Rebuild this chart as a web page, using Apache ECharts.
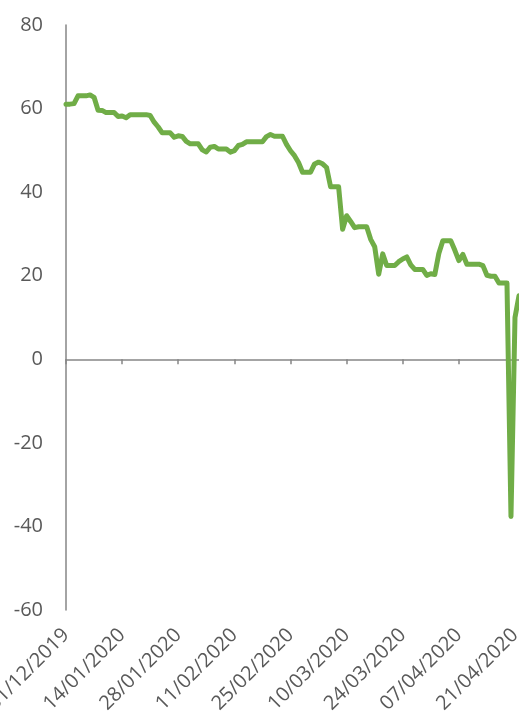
<!DOCTYPE html>
<html>
<head>
<meta charset="utf-8">
<script src="https://cdn.jsdelivr.net/npm/echarts@6/dist/echarts.min.js"></script>
<style>
html,body{margin:0;padding:0;background:#fff;}
#chart{width:519px;height:727px;}
</style>
</head>
<body>
<div id="chart"></div>
<script>
// Calendar days, 31/12/2019 .. 22/04/2020
const dates = [
'31/12/2019',
'01/01/2020','02/01/2020','03/01/2020','04/01/2020','05/01/2020','06/01/2020','07/01/2020','08/01/2020','09/01/2020','10/01/2020',
'11/01/2020','12/01/2020','13/01/2020','14/01/2020','15/01/2020','16/01/2020','17/01/2020','18/01/2020','19/01/2020','20/01/2020',
'21/01/2020','22/01/2020','23/01/2020','24/01/2020','25/01/2020','26/01/2020','27/01/2020','28/01/2020','29/01/2020','30/01/2020','31/01/2020',
'01/02/2020','02/02/2020','03/02/2020','04/02/2020','05/02/2020','06/02/2020','07/02/2020','08/02/2020','09/02/2020','10/02/2020',
'11/02/2020','12/02/2020','13/02/2020','14/02/2020','15/02/2020','16/02/2020','17/02/2020','18/02/2020','19/02/2020','20/02/2020',
'21/02/2020','22/02/2020','23/02/2020','24/02/2020','25/02/2020','26/02/2020','27/02/2020','28/02/2020','29/02/2020',
'01/03/2020','02/03/2020','03/03/2020','04/03/2020','05/03/2020','06/03/2020','07/03/2020','08/03/2020','09/03/2020','10/03/2020',
'11/03/2020','12/03/2020','13/03/2020','14/03/2020','15/03/2020','16/03/2020','17/03/2020','18/03/2020','19/03/2020','20/03/2020',
'21/03/2020','22/03/2020','23/03/2020','24/03/2020','25/03/2020','26/03/2020','27/03/2020','28/03/2020','29/03/2020','30/03/2020','31/03/2020',
'01/04/2020','02/04/2020','03/04/2020','04/04/2020','05/04/2020','06/04/2020','07/04/2020','08/04/2020','09/04/2020','10/04/2020',
'11/04/2020','12/04/2020','13/04/2020','14/04/2020','15/04/2020','16/04/2020','17/04/2020','18/04/2020','19/04/2020','20/04/2020',
'21/04/2020','22/04/2020'
];

const prices = [
61.06,
61.06,61.18,63.05,63.05,63.05,63.27,62.70,59.61,59.56,59.04,
59.04,59.04,58.08,58.23,57.81,58.52,58.54,58.54,58.54,58.54,
58.34,56.74,55.59,54.19,54.19,54.19,53.14,53.48,53.33,52.14,51.56,
51.56,51.56,50.11,49.61,50.75,50.95,50.32,50.32,50.32,49.57,
49.94,51.17,51.42,52.05,52.05,52.05,52.05,52.05,53.29,53.78,
53.38,53.38,53.38,51.43,49.90,48.73,47.09,44.76,44.76,
44.76,46.75,47.18,46.78,45.90,41.28,41.28,41.28,31.13,34.36,
32.98,31.50,31.73,31.73,31.73,28.70,26.95,20.37,25.22,22.43,
22.43,22.43,23.36,24.01,24.49,22.60,21.51,21.51,21.51,20.09,20.48,
20.31,25.32,28.34,28.34,28.34,26.08,23.63,25.09,22.76,22.76,
22.76,22.76,22.41,20.11,19.87,19.87,18.27,18.27,18.27,-37.63,
10.01,15.20
];

const tickLabels = ['31/12/2019','14/01/2020','28/01/2020','11/02/2020','25/02/2020','10/03/2020','24/03/2020','07/04/2020','21/04/2020'];

const yMin = -60, yMax = 80, yStep = 20;

const FONT = '"Open Sans", "Noto Sans", sans-serif';
const axisGray = '#868686';
const textGray = '#595959';

const chart = echarts.init(document.getElementById('chart'));
const showLabel = (idx, val) => tickLabels.indexOf(val) >= 0;

chart.setOption({
  animation: false,
  backgroundColor: '#ffffff',
  grid: { left: 66, right: 0, top: 25, bottom: 117, containLabel: false, outerBoundsMode: 'none' },
  xAxis: [
    {
      type: 'category',
      data: dates,
      boundaryGap: false,
      axisLine: { onZero: true, lineStyle: { color: axisGray, width: 1.5 } },
      axisTick: { show: true, interval: showLabel, length: 5, lineStyle: { color: axisGray, width: 1.5 } },
      axisLabel: { show: false },
      splitLine: { show: false }
    },
    {
      type: 'category',
      data: dates,
      boundaryGap: false,
      position: 'bottom',
      axisLine: { show: false, onZero: false },
      axisTick: { show: false },
      axisLabel: {
        show: true,
        interval: showLabel,
        rotate: 45,
        margin: 22,
        fontFamily: FONT,
        fontSize: 20,
        color: textGray,
        hideOverlap: false
      },
      splitLine: { show: false }
    }
  ],
  yAxis: {
    type: 'value',
    min: yMin,
    max: yMax,
    interval: yStep,
    axisLine: { show: true, lineStyle: { color: axisGray, width: 1.5 } },
    axisTick: { show: false },
    axisLabel: { margin: 23, fontFamily: FONT, fontSize: 20, color: textGray },
    splitLine: { show: false }
  },
  series: [{
    type: 'line',
    xAxisIndex: 0,
    data: prices,
    showSymbol: false,
    symbol: 'none',
    lineStyle: { color: '#70AD47', width: 5, join: 'round', cap: 'round' },
    clip: true
  }]
});
</script>
</body>
</html>
